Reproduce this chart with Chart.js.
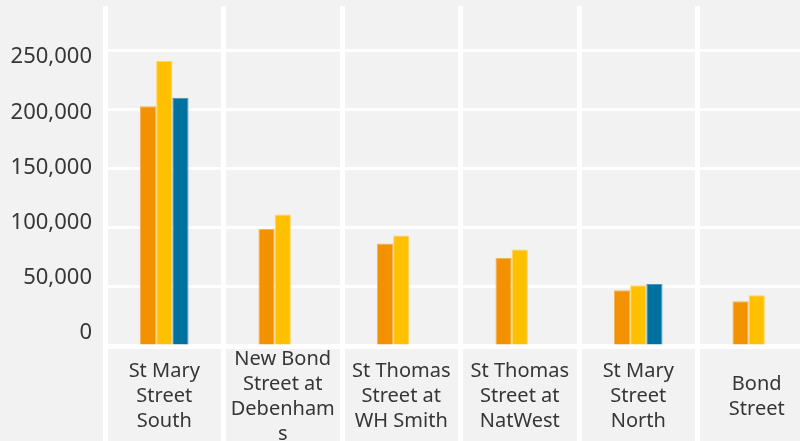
<!DOCTYPE html>
<html><head><meta charset="utf-8">
<script src="https://cdn.jsdelivr.net/npm/chart.js@4"></script>
<style>html,body{margin:0;padding:0;background:#f2f2f2;overflow:hidden;width:800px;height:441px;} #c{display:block;}</style>
</head><body>
<canvas id="c" width="816" height="441"></canvas>
<script>
const categories = [
  ["St Mary","Street","South"],
  ["New Bond","Street at","Debenham","s"],
  ["St Thomas","Street at","WH Smith"],
  ["St Thomas","Street at","NatWest"],
  ["St Mary","Street","North"],
  ["Bond","Street"]
];
const seriesA = [202800, 99100, 86600, 74500, 47100, 37800];
const seriesB = [240900, 111200, 93400, 81600, 51400, 42900];
const seriesC = [209900, null, null, null, 52500, null];
const yTicks = [0, 50000, 100000, 150000, 200000, 250000];

const XFONT = {family: "'Noto Sans', sans-serif", size: 20, lineHeight: 1.25};
const YFONT = {family: "'Noto Sans', sans-serif", size: 22, lineHeight: 1.2};
const TXT = '#363636';
const noPad = s => { s.paddingTop = 0; s.paddingBottom = 0; s.paddingLeft = 0; s.paddingRight = 0; };

new Chart(document.getElementById('c'), {
  type: 'bar',
  data: {
    labels: categories,
    datasets: [
      {data: seriesA, backgroundColor: '#f39200', borderColor: '#f6b257', borderWidth: 1},
      {data: seriesB, backgroundColor: '#ffc000', borderColor: '#ffd35c', borderWidth: 1},
      {data: seriesC, backgroundColor: '#00709f', borderColor: '#4a97bd', borderWidth: 1}
    ]
  },
  options: {
    responsive: false,
    animation: false,
    layout: {padding: {top: 6, left: 0, right: 0, bottom: 0}},
    plugins: {legend: {display: false}, tooltip: {enabled: false}},
    datasets: {bar: {categoryPercentage: 0.41, barPercentage: 1}},
    scales: {
      x: {
        z: 1,
        grid: {color: '#ffffff', lineWidth: 5, offset: true, drawTicks: true, tickLength: 95},
        border: {display: true, color: '#ffffff', width: 5},
        ticks: {font: XFONT, color: TXT, padding: -82, maxRotation: 0, autoSkip: false, crossAlign: 'center'},
        afterFit: s => { s.height = 95; noPad(s); }
      },
      y: {
        min: 0, max: 287500,
        grid: {color: '#ffffff', lineWidth: 3, drawTicks: false},
        border: {display: false},
        ticks: {display: false},
        afterBuildTicks: s => { s.ticks = yTicks.map(v => ({value: v})); },
        afterFit: s => { s.width = 0; noPad(s); }
      },
      yl: {
        position: 'left',
        min: -11818, max: 296364,
        grid: {display: false, drawTicks: false},
        border: {display: false},
        ticks: {font: YFONT, color: TXT, padding: 13, callback: v => v.toLocaleString('en-US')},
        afterBuildTicks: s => { s.ticks = yTicks.map(v => ({value: v})); },
        afterFit: s => { s.width = 105; noPad(s); }
      }
    }
  }
});
</script>
</body></html>
